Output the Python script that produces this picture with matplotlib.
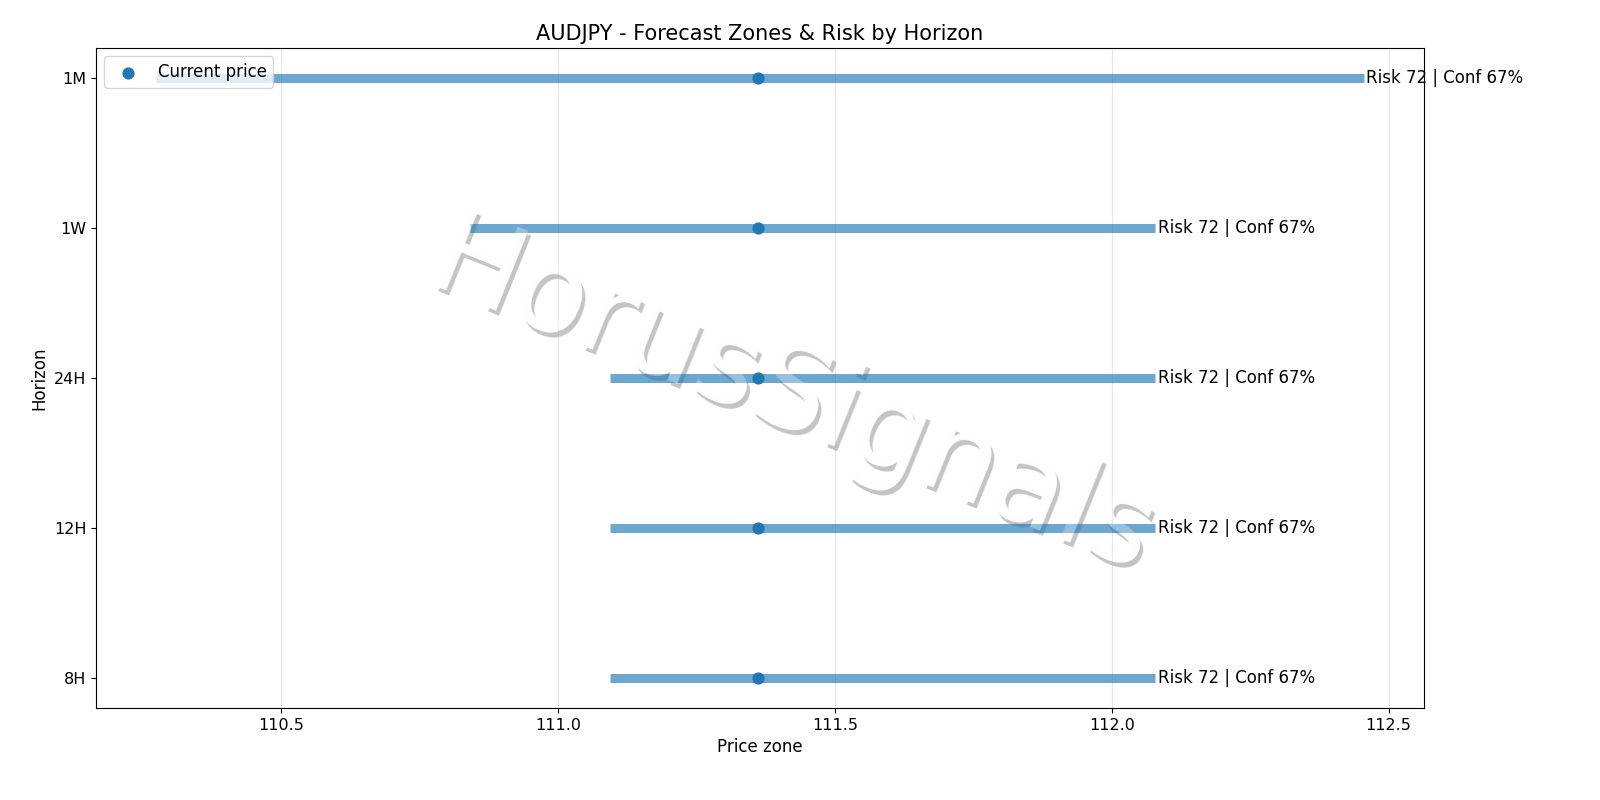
import matplotlib
matplotlib.use("Agg")
import matplotlib.pyplot as plt

horizons = ["8H", "12H", "24H", "1W", "1M"]
zone_low = [111.094, 111.094, 111.094, 110.84, 110.274]
zone_high = [112.078, 112.078, 112.078, 112.078, 112.455]
current_price = 111.36
risk = [72, 72, 72, 72, 72]
conf = [67, 67, 67, 67, 67]

fig, ax = plt.subplots(figsize=(16, 8), dpi=100)
ax.set_facecolor("none")
ypos = list(range(len(horizons)))
for y, lo, hi, r, c in zip(ypos, zone_low, zone_high, risk, conf):
    ax.hlines(y, lo, hi, color="tab:blue", linewidth=6.5, alpha=0.65)
    ax.text(hi + 0.005, y, f"Risk {r} | Conf {c}%", va="center", ha="left", fontsize=12)
ax.scatter([current_price] * len(horizons), ypos, color="tab:blue", s=60, zorder=3, label="Current price")

ax.set_yticks(ypos)
ax.set_yticklabels(horizons)
ax.tick_params(labelsize=11.5)
ax.set_xlabel("Price zone", fontsize=12)
ax.set_ylabel("Horizon", fontsize=12)
ax.set_title("AUDJPY - Forecast Zones & Risk by Horizon", fontsize=15)
ax.grid(axis="x", alpha=0.3)
ax.legend(loc="upper left", fontsize=12)

# watermark: shadow, opaque fill behind the axes, translucent fill on top
wm = dict(fontsize=85, rotation=-22, ha="center", va="center")
fig.text(0.497, 0.494, "HorusSignals", color="#c4c4c4", zorder=-2, **wm)
fig.text(0.495, 0.5, "HorusSignals", color="white", zorder=-1, **wm)
fig.text(0.495, 0.5, "HorusSignals", color="white", alpha=0.3, zorder=5, **wm)

fig.subplots_adjust(left=0.06, right=0.89, top=0.94, bottom=0.115)
fig.savefig("out.png")
